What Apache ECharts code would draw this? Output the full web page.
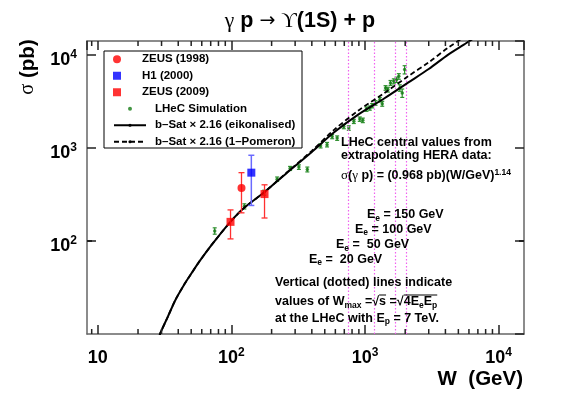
<!DOCTYPE html>
<html>
<head>
<meta charset="utf-8">
<script src="https://cdn.jsdelivr.net/npm/echarts@6/dist/echarts.min.js"></script>
<style>
  html, body { margin: 0; background: #fff; }
  #chart { width: 581px; height: 394px; }
</style>
</head>
<body>
<div id="chart"></div>
<script>
// measurements (W in GeV, sigma in pb)
const zeus1998 = [[119, 370]];
const zeus1998ErrLo = [170];
const zeus1998ErrHi = [170];

const h12000 = [[141, 540]];
const h12000ErrLo = [300];
const h12000ErrHi = [290];

const zeus2009 = [[98.5, 160], [177, 318]];
const zeus2009ErrLo = [55, 142];
const zeus2009ErrHi = [55, 82];

// LHeC pseudo-data
const lhecW = [75, 125, 176, 220, 275, 320, 370, 465, 520, 568, 619, 694, 756, 825, 914, 963,
  1026, 1086, 1132, 1199, 1291, 1346, 1425, 1483, 1553, 1644, 1722, 1791, 1822, 1900, 1980];
const lhecSigma = [128, 235, 330, 460, 600, 620, 585, 1050, 1080, 1320, 1270, 1690, 1630, 1920, 2030, 1970,
  2600, 2670, 2830, 3030, 3280, 2970, 4390, 4210, 4970, 5170, 5380, 5840, 4390, 3870, 6900];
const lhecErr = [10, 15, 20, 25, 30, 35, 35, 55, 60, 70, 70, 90, 90, 100, 110, 110,
  140, 140, 150, 170, 180, 180, 250, 250, 300, 320, 350, 400, 350, 400, 700];

// b-Sat x 2.16 curves
const bsatW = [29, 29.4, 33.2, 38.1, 43.7, 49.3, 56.6, 63.9, 75.9, 98.3, 124, 175, 261, 400, 581, 900, 1400, 2100, 3000, 4200, 5500, 6200, 7500];
const bsatEik = [9.6, 10.25, 15, 23.2, 32.8, 43, 58, 74, 102, 160, 225, 330, 540, 900, 1450, 2300, 3400, 5000, 7000, 10000, 12800, 14300, 16800];
const bsatPom = [9.6, 10.25, 15, 23.2, 32.8, 43, 58, 74, 102, 160, 225, 330, 545, 927, 1537, 2530, 3876, 5850, 8260, 11900, 15360, 17200, 20200];

// W_max = sqrt(4 Ee Ep) for Ee = 20, 50, 100, 150 GeV
const wMaxLines = [748, 1183, 1673, 2049];

// axes
const xMin = 8.3, xMax = 15500;
const yMin = 10, yMax = 14000;
const tickExp = { 1: '', 2: '2', 3: '3', 4: '4' };
const xMinorTicks = [9, 20, 30, 40, 50, 60, 70, 80, 90, 200, 300, 400, 500, 600, 700, 800, 900,
  2000, 3000, 4000, 5000, 6000, 7000, 8000, 9000];
const yMinorTicks = [20, 30, 40, 50, 60, 70, 80, 90, 200, 300, 400, 500, 600, 700, 800, 900,
  2000, 3000, 4000, 5000, 6000, 7000, 8000, 9000];

const F = '"Liberation Sans", Arial, Helvetica, sans-serif';
const S = '"Liberation Serif", "DejaVu Serif", "Times New Roman", serif';

function withErr(points, lo, hi) {
  return points.map((p, i) => [p[0], p[1] - lo[i], p[1] + hi[i]]);
}

function errorBar(color, cap, width) {
  return function (params, api) {
    const x = api.value(0);
    const lo = api.coord([x, api.value(1)]);
    const hi = api.coord([x, api.value(2)]);
    const style = { stroke: color, lineWidth: width };
    return {
      type: 'group',
      children: [
        { type: 'line', shape: { x1: lo[0], y1: lo[1], x2: hi[0], y2: hi[1] }, style },
        { type: 'line', shape: { x1: lo[0] - cap, y1: lo[1], x2: lo[0] + cap, y2: lo[1] }, style },
        { type: 'line', shape: { x1: hi[0] - cap, y1: hi[1], x2: hi[0] + cap, y2: hi[1] }, style }
      ]
    };
  };
}

// minor ticks on both sides of the frame; frame edges come from the axis extents
function minorTicks(axis) {
  return function (params, api) {
    const v = api.value(0);
    const style = { fill: '#222' };
    if (axis === 'x') {
      const b = api.coord([v, yMin]);
      const t = api.coord([v, yMax]);
      return { type: 'group', children: [
        { type: 'rect', shape: { x: b[0] - 0.75, y: b[1] - 5, width: 1.5, height: 5 }, style },
        { type: 'rect', shape: { x: t[0] - 0.75, y: t[1], width: 1.5, height: 5 }, style }
      ]};
    }
    const l = api.coord([xMin, v]);
    const r = api.coord([xMax, v]);
    return { type: 'group', children: [
      { type: 'rect', shape: { x: l[0], y: l[1] - 0.75, width: 5, height: 1.5 }, style },
      { type: 'rect', shape: { x: r[0] - 5, y: r[1] - 0.75, width: 5, height: 1.5 }, style }
    ]};
  };
}

const tickRich = {
  b: { fontFamily: F, fontWeight: 'bold', fontSize: 18, lineHeight: 22, color: '#000' },
  s: { fontFamily: F, fontWeight: 'bold', fontSize: 12, lineHeight: 10, verticalAlign: 'top', color: '#000' }
};
function tickLabel(v) {
  const e = Math.round(Math.log10(v));
  if (Math.abs(Math.log10(v) - e) > 1e-6 || !(e in tickExp)) return '';
  return tickExp[e] ? '{b|10}{s|' + tickExp[e] + '}' : '{b|10}';
}

const txtRich = {
  n: { fontFamily: F, fontWeight: 'bold', fontSize: 12.5, lineHeight: 16, fill: '#000' },
  sub: { fontFamily: F, fontWeight: 'bold', fontSize: 8.5, lineHeight: 6, verticalAlign: 'bottom', fill: '#000' },
  sup: { fontFamily: F, fontWeight: 'bold', fontSize: 8.5, lineHeight: 6, verticalAlign: 'top', fill: '#000' },
  g: { fontFamily: S, fontWeight: 'normal', fontSize: 13, lineHeight: 16, fill: '#000' },
  t: { fontFamily: F, fontWeight: 'bold', fontSize: 21.5, lineHeight: 24, fill: '#000' },
  tg: { fontFamily: S, fontWeight: 'normal', fontSize: 21.5, lineHeight: 24, fill: '#000' },
  ta: { fontFamily: '"DejaVu Sans", sans-serif', fontWeight: 'normal', fontSize: 19, lineHeight: 24, fill: '#000' },
  a: { fontFamily: F, fontWeight: 'bold', fontSize: 20.5, lineHeight: 24, fill: '#000' },
  ag: { fontFamily: S, fontWeight: 'normal', fontSize: 20.5, lineHeight: 24, fill: '#000' }
};
function txt(x, y, text, align) {
  return {
    type: 'text', x: x, y: y, silent: true, z: 50,
    style: {
      text: text, rich: txtRich, fill: '#000',
      fontFamily: F, fontWeight: 'bold', fontSize: 12.5,
      textAlign: align || 'left', textVerticalAlign: 'middle'
    }
  };
}
function seg(x1, y1, x2, y2) {
  return { type: 'line', silent: true, z: 50, shape: { x1: x1, y1: y1, x2: x2, y2: y2 },
    style: { stroke: '#000', lineWidth: 1 } };
}

// overlines of the square roots, placed from measured text widths
const ctx = document.createElement('canvas').getContext('2d');
function tw(text, size) {
  ctx.font = 'bold ' + size + 'px ' + F;
  return ctx.measureText(text).width;
}
const rootX0 = 275 + tw('values of W', 12.5) + tw('max', 8.5) + tw(' =\u221a', 12.5);
const rootX1 = rootX0 + tw('s', 12.5) + tw(' =\u221a', 12.5);
const rootX2 = rootX1 + tw('4E', 12.5) + tw('e', 8.5) + tw('E', 12.5) + tw('p', 8.5);

const axisLine = { show: true, lineStyle: { color: '#666', width: 1.5 } };
const axisTick = { show: true, inside: true, length: 9, lineStyle: { color: '#222', width: 1.5 } };
const legendText = { fontFamily: F, fontWeight: 'bold', fontSize: 11.5, color: '#000', lineHeight: 16.5, padding: [0, 0, 0, 4] };
const squareIcon = 'path://M0,0H10V10H0Z';

function logAxis(min, max, position, labels) {
  return {
    type: 'log', logBase: 10, min: min, max: max, position: position,
    axisLine: axisLine, axisTick: axisTick, splitLine: { show: false },
    axisLabel: labels || { show: false }
  };
}

const chart = echarts.init(document.getElementById('chart'), null, { renderer: 'canvas' });

const option = {
  animation: false,
  grid: { left: 87, right: 57, top: 41, bottom: 60, outerBoundsMode: 'none' },
  legend: [
    {
      data: [
        { name: 'ZEUS (1998)', icon: 'circle' },
        { name: 'H1 (2000)', icon: squareIcon },
        { name: 'ZEUS (2009)', icon: squareIcon }
      ],
      orient: 'vertical', left: 113, top: 51, padding: 0, itemGap: 0,
      itemWidth: 32, itemHeight: 8, selectedMode: false, textStyle: legendText
    },
    {
      data: ['LHeC Simulation', 'b\u2013Sat \u00d7 2.16 (eikonalised)', 'b\u2013Sat \u00d7 2.16 (1\u2013Pomeron)'],
      orient: 'vertical', left: 113, top: 100.5, padding: 0, itemGap: 0,
      itemWidth: 32, itemHeight: 4, selectedMode: false, textStyle: legendText
    }
  ],
  xAxis: [
    logAxis(xMin, xMax, 'bottom', { margin: 13, formatter: tickLabel, rich: tickRich, showMinLabel: false, showMaxLabel: false }),
    logAxis(xMin, xMax, 'top')
  ],
  yAxis: [
    logAxis(yMin, yMax, 'left', { margin: 10, padding: [10, 0, 0, 0], formatter: tickLabel, rich: tickRich, showMinLabel: false, showMaxLabel: false }),
    logAxis(yMin, yMax, 'right')
  ],
  graphic: [
    txt(300, 21, '{tg|\u03b3}{t| p }{ta|\u2192}{t| }{tg|\u03d2}{t|(1S) + p}', 'center'),
    {
      type: 'text', x: 28, y: 67, rotation: Math.PI / 2, silent: true,
      style: {
        text: '{ag|\u03c3}{a| (pb)}', rich: txtRich, fill: '#000',
        textAlign: 'center', textVerticalAlign: 'middle'
      }
    },
    txt(523, 379, '{a|W  (GeV)}', 'right'),
    { type: 'rect', silent: true, shape: { x: 104, y: 51, width: 198, height: 97 },
      style: { fill: 'rgba(0,0,0,0)', stroke: '#000', lineWidth: 1 } },
    txt(341, 143, '{n|LHeC central values from}'),
    txt(341, 156, '{n|extrapolating HERA data:}'),
    txt(341, 176, '{g|\u03c3}{n|(}{g|\u03b3}{n| p) = (0.968 pb)(W/GeV)}{sup|1.14}'),
    txt(367, 215, '{n|E}{sub|e}{n| = 150 GeV}'),
    txt(355, 229.5, '{n|E}{sub|e}{n| = 100 GeV}'),
    txt(336, 245, '{n|E}{sub|e}{n| =  50 GeV}'),
    txt(309, 259.5, '{n|E}{sub|e}{n| =  20 GeV}'),
    txt(275, 283, '{n|Vertical (dotted) lines indicate}'),
    txt(275, 302, '{n|values of W}{sub|max}{n| =\u221as =\u221a4E}{sub|e}{n|E}{sub|p}'),
    seg(rootX0, 295, rootX0 + tw('s', 12.5), 295),
    seg(rootX1, 295, rootX2, 295),
    txt(275, 318.5, '{n|at the LHeC with E}{sub|p}{n| = 7 TeV.}')
  ],
  series: [
    {
      name: 'x minor ticks', type: 'custom', renderItem: minorTicks('x'),
      data: xMinorTicks.map(v => [v, 100]), encode: { x: 0, y: 1 }, z: 10
    },
    {
      name: 'y minor ticks', type: 'custom', renderItem: minorTicks('y'),
      data: yMinorTicks.map(v => [100, v]), encode: { x: 0, y: 1 }, z: 10
    },
    {
      name: 'LHeC errors', type: 'custom', renderItem: errorBar('#2f8f2f', 2, 1.2),
      data: lhecW.map((w, i) => [w, lhecSigma[i] - lhecErr[i], lhecSigma[i] + lhecErr[i]]),
      encode: { x: 0, y: [1, 2] }, silent: true, z: 3
    },
    {
      name: 'LHeC Simulation', type: 'scatter', symbol: 'circle', symbolSize: 3.5,
      itemStyle: { color: '#137a13' }, z: 4,
      data: lhecW.map((w, i) => [w, lhecSigma[i]]),
      markLine: {
        silent: true, symbol: 'none', label: { show: false },
        lineStyle: { color: '#f060f0', type: [1.5, 2], width: 1.2 },
        data: wMaxLines.map(v => ({ xAxis: v }))
      }
    },
    {
      name: 'b\u2013Sat \u00d7 2.16 (eikonalised)', type: 'line', symbol: 'none', smooth: 0.3,
      lineStyle: { color: '#000', width: 2 }, itemStyle: { color: '#000' }, z: 5,
      data: bsatW.map((w, i) => [w, bsatEik[i]])
    },
    {
      name: 'b\u2013Sat \u00d7 2.16 (1\u2013Pomeron)', type: 'line', symbol: 'none', smooth: 0.3,
      lineStyle: { color: '#000', width: 1.8, type: [5, 3] }, itemStyle: { color: '#000' }, z: 5,
      data: bsatW.map((w, i) => [w, bsatPom[i]])
    },
    {
      name: 'ZEUS 1998 errors', type: 'custom', renderItem: errorBar('#ff3030', 3, 1.3),
      data: withErr(zeus1998, zeus1998ErrLo, zeus1998ErrHi), encode: { x: 0, y: [1, 2] }, silent: true, z: 6
    },
    {
      name: 'H1 2000 errors', type: 'custom', renderItem: errorBar('#6a6aff', 3, 1.5),
      data: withErr(h12000, h12000ErrLo, h12000ErrHi), encode: { x: 0, y: [1, 2] }, silent: true, z: 6
    },
    {
      name: 'ZEUS 2009 errors', type: 'custom', renderItem: errorBar('#ff3030', 3, 1.3),
      data: withErr(zeus2009, zeus2009ErrLo, zeus2009ErrHi), encode: { x: 0, y: [1, 2] }, silent: true, z: 6
    },
    {
      name: 'ZEUS (1998)', type: 'scatter', symbol: 'circle', symbolSize: 8,
      itemStyle: { color: '#ff0000' }, z: 7, data: zeus1998
    },
    {
      name: 'H1 (2000)', type: 'scatter', symbol: 'rect', symbolSize: 8,
      itemStyle: { color: '#0000ff' }, z: 7, data: h12000
    },
    {
      name: 'ZEUS (2009)', type: 'scatter', symbol: 'rect', symbolSize: 8,
      itemStyle: { color: '#ff0000' }, z: 7, data: zeus2009
    }
  ]
};

chart.setOption(option);
window.addEventListener('resize', () => chart.resize());
</script>
</body>
</html>
